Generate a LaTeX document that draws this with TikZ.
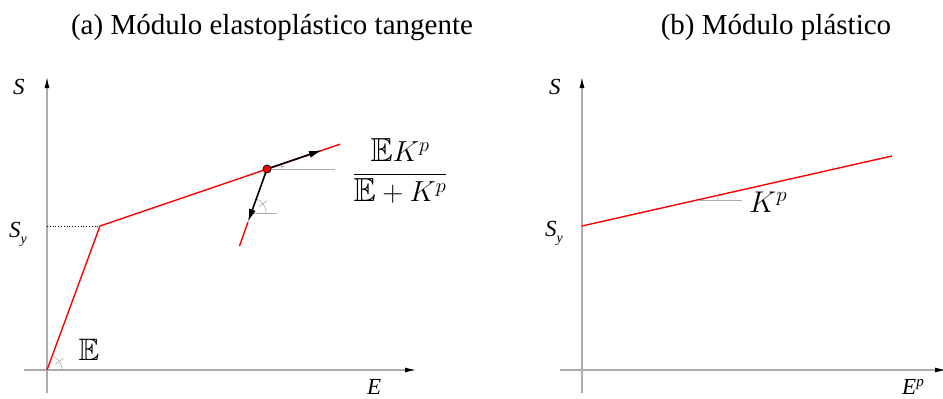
\RequirePackage{fix-cm}
\documentclass[tikz,border=0pt]{standalone}
\usepackage{amsmath,amssymb,graphicx}
\usepackage{fontspec}
\setmainfont{Liberation Serif}
\usetikzlibrary{arrows.meta,calc}
\newcommand{\bbE}{\mathord{\raisebox{0pt}{\scalebox{1.15}{$\mathbb{E}$}}}}
\begin{document}
\begin{tikzpicture}[x=1pt,y=-1pt,
  axis/.style={draw=gray!65,line width=1.1pt,-{Latex[length=11pt,width=5pt,color=black]}},
  curve/.style={draw=red,line width=1.4pt},
  vec/.style={draw=black,line width=1.6pt,-{Latex[length=13pt,width=7pt]}},
  aux/.style={draw=gray!65,line width=0.8pt},
  lbl/.style={inner sep=0pt,anchor=base west,font=\fontsize{23}{26}\selectfont},
  ttl/.style={inner sep=0pt,font=\fontsize{29}{34}\selectfont},
  big/.style={inner sep=0pt,font=\fontsize{30}{36}\selectfont}]
\useasboundingbox (0,0) rectangle (943,399);

% titles
\node[ttl] (ta) at (272,28) {(a) Módulo elastoplástico tangente};
\node[ttl] (tb) at (776,28) {(b) Módulo plástico};

% ---------- left panel ----------
\coordinate (ya0) at (47,393);
\coordinate (ya1) at (47,77);
\coordinate (xa0) at (24,370);
\coordinate (xa1) at (416,370);
\draw[axis] (ya0) -- (ya1);
\draw[axis] (xa0) -- (xa1);

\coordinate (O) at (47,370);
\coordinate (Y) at (100,226);
\coordinate (sy) at (47,226);
\coordinate (P) at (267,169);
\coordinate (A) at (340,144.2);
\coordinate (T) at (322,150.2);
\coordinate (B) at (248,222);
\coordinate (Bend) at (239.5,246);
\coordinate (C) at (251.2,213);
\coordinate (Cend) at (277,213);
\coordinate (Pend) at (335,169);

\draw[dotted,line width=0.8pt] (sy) -- (Y);
\draw[curve] (O) -- (Y) -- (A);
\draw[curve] (B) -- (Bend);

% angle marks
\draw[aux] (Pend) -- (P);
\draw[aux] (C) -- (Cend);
\draw[aux,line width=0.6pt] ($(O)+(15pt,0)$) arc[start angle=0,end angle=70,radius=15pt];
\draw[aux,line width=0.6pt] ($(O)+(35:10pt)$) -- ($(O)+(35:20pt)$);
\draw[aux,line width=0.6pt] ($(P)+(15pt,0)$) arc[start angle=0,end angle=19,radius=15pt];
\draw[aux,line width=0.6pt] ($(P)+(9:12pt)$) -- ($(P)+(9:18pt)$);
\draw[aux,line width=0.6pt] ($(C)+(15pt,0)$) arc[start angle=0,end angle=70,radius=15pt];
\draw[aux,line width=0.6pt] ($(C)+(38:10pt)$) -- ($(C)+(38:20pt)$);

\draw[vec] (P) -- (T);
\draw[vec] (P) -- (B);
\node[circle,fill=red,draw=black,line width=0.8pt,minimum size=8pt,inner sep=0pt] (dot) at (P) {};

\node[inner sep=0pt,font=\fontsize{29}{34}\selectfont] (frac) at (400,171) {$\dfrac{\bbE K^{p}}{\bbE+K^{p}}$};
\node[inner sep=0pt,font=\fontsize{31}{36}\selectfont] (Elab) at (89,350) {$\mathbb{E}$};

\node[lbl] (Sa) at (13,94) {\textit{S}};
\node[lbl] (Sya) at (9,237) {\textit{S}\raisebox{-6pt}{\fontsize{14}{16}\selectfont\textit{y}}};
\node[lbl] (Ea) at (367,394) {\textit{E}};

% ---------- right panel ----------
\coordinate (yb0) at (582,393);
\coordinate (yb1) at (582,77);
\coordinate (xb0) at (560,370);
\coordinate (xb1) at (946,370);
\draw[axis] (yb0) -- (yb1);
\draw[axis] (xb0) -- (xb1);

\coordinate (R0) at (582,226);
\coordinate (R1) at (892,156);
\coordinate (K0) at (697,200);
\coordinate (K1) at (742,200);
\draw[curve] (R0) -- (R1);
\draw[aux] (K0) -- (K1);
\draw[aux,line width=0.6pt] ($(K0)+(21pt,0)$) arc[start angle=0,end angle=12.7,radius=21pt];

\node[lbl] (Sb) at (549,94) {\textit{S}};
\node[lbl] (Syb) at (545,236) {\textit{S}\raisebox{-6pt}{\fontsize{14}{16}\selectfont\textit{y}}};
\node[lbl] (Eb) at (902,394) {\textit{E}\raisebox{8pt}{\fontsize{15}{17}\selectfont\textit{p}}};
\node[big,anchor=base west] (Kp) at (749,212) {$K^{p}$};
\end{tikzpicture}
\end{document}
